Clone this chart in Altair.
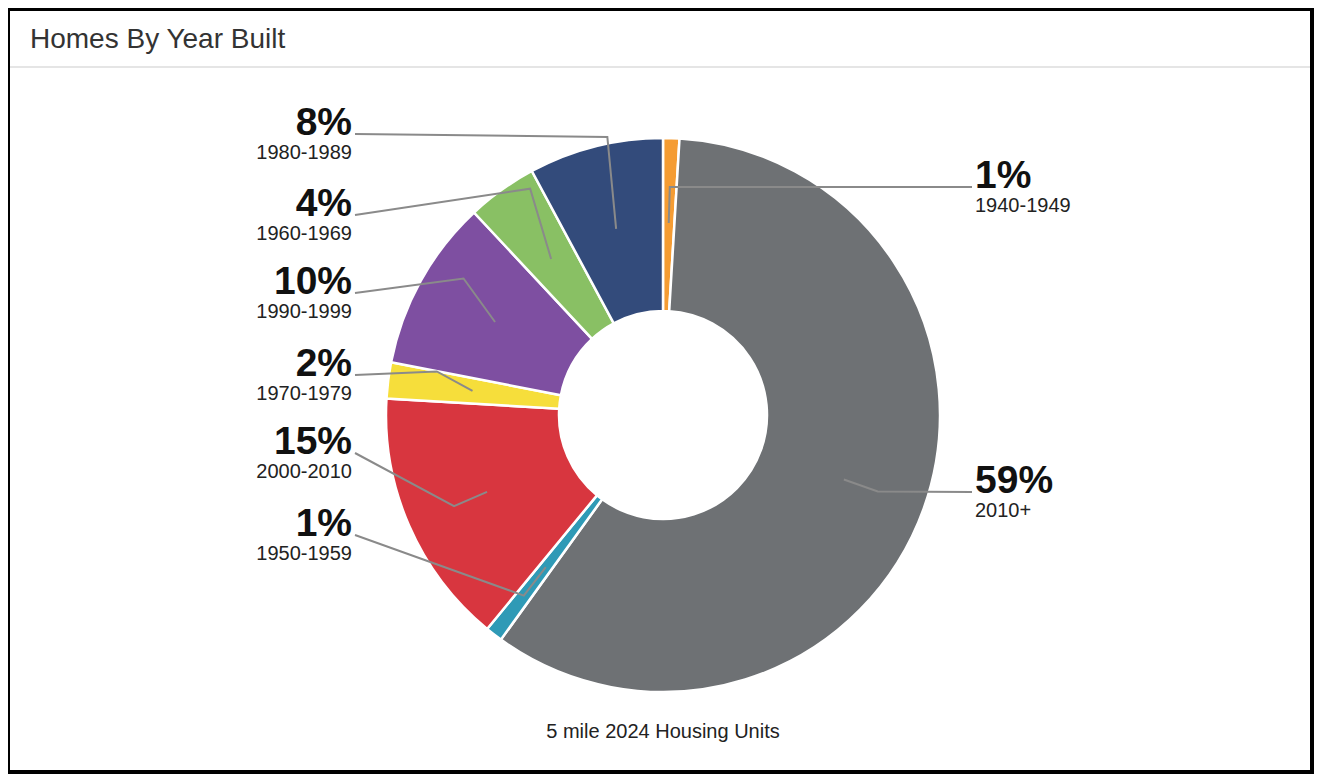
import math
import altair as alt
import pandas as pd

# ---------------- data ----------------
periods = ["1940-1949", "2010+", "1950-1959", "2000-2010",
           "1970-1979", "1990-1999", "1960-1969", "1980-1989"]
shares = [0.95, 59.0, 1.0, 15.0, 2.1, 10.0, 4.1, 7.85]
pct_labels = ["1%", "59%", "1%", "15%", "2%", "10%", "4%", "8%"]
colors = ["#F59C33", "#6E7174", "#2F9AB6", "#D8363F",
          "#F6DE3B", "#7E4FA1", "#89C064", "#334B7B"]
TITLE = "Homes By Year Built"
CAPTION = "5 mile 2024 Housing Units"

# ---------------- layout ----------------
W, H = 1306, 766
CX, CY = 655, 407
R_OUT, R_IN = 277, 104
R_DOT, R_BEND = 192, 228
label_side = ["right", "right", "left", "left", "left", "left", "left", "left"]
label_y = [179, 484, 527, 445, 367, 285, 207, 126]
bend_lift = [0, 0, 0, 0, 15, 26, 41, 57]
LEAD_END = {"left": 347, "right": 964}
TEXT_X = {"left": 344, "right": 967}

total = sum(shares)
cum = 0.0
rows, lead = [], []
for i, (p, s) in enumerate(zip(periods, shares)):
    mid = (cum + s / 2) / total * 2 * math.pi
    cum += s
    side = label_side[i]
    px = CX + R_DOT * math.sin(mid)
    py = CY - R_DOT * math.cos(mid)
    bx = CX + R_BEND * math.sin(mid)
    by = CY - R_BEND * math.cos(mid) - bend_lift[i]
    ex, ey = LEAD_END[side], label_y[i]
    for k, (xx, yy) in enumerate([(px, py), (bx, by), (ex, ey)]):
        lead.append({"period": p, "step": k, "x": xx, "y": yy})
    rows.append({"period": p, "share": s, "order": i, "pct": pct_labels[i],
                 "side": side, "tx": TEXT_X[side],
                 "py": label_y[i] + 1, "yy": label_y[i] + 25})

df = pd.DataFrame(rows)
lead_df = pd.DataFrame(lead)

xs = alt.Scale(domain=[0, W], range=[0, W], nice=False, zero=False)
ys = alt.Scale(domain=[0, H], range=[0, H], nice=False, zero=False)
FONT = "Liberation Sans"

panel = alt.Chart(pd.DataFrame({"a": [0]})).mark_rect(color="#ffffff").encode(
    x=alt.value(2), x2=alt.value(W - 4), y=alt.value(3), y2=alt.value(H - 4)
)
sep = alt.Chart(pd.DataFrame({"a": [0]})).mark_rule(color="#dcdcdc", strokeWidth=1.5).encode(
    x=alt.value(2), x2=alt.value(W - 4), y=alt.value(59)
)
title = alt.Chart(pd.DataFrame({"t": [TITLE]})).mark_text(
    align="left", baseline="alphabetic", font=FONT, fontSize=28, color="#333333"
).encode(text="t:N", x=alt.value(22), y=alt.value(40))
caption = alt.Chart(pd.DataFrame({"t": [CAPTION]})).mark_text(
    align="center", baseline="alphabetic", font=FONT, fontSize=20, color="#222222"
).encode(text="t:N", x=alt.value(CX), y=alt.value(730))

arcs = alt.Chart(df).mark_arc(
    outerRadius=R_OUT, innerRadius=R_IN, stroke="white", strokeWidth=2.5, x=CX, y=CY
).encode(
    theta=alt.Theta("share:Q", stack=True),
    order=alt.Order("order:Q"),
    color=alt.Color("period:N", scale=alt.Scale(domain=periods, range=colors), legend=None),
)

lines = alt.Chart(lead_df).mark_line(color="#8a8a8a", strokeWidth=2).encode(
    x=alt.X("x:Q", scale=xs, axis=None),
    y=alt.Y("y:Q", scale=ys, axis=None),
    detail="period:N",
    order="step:Q",
)

def labels(side, align):
    base = alt.Chart(df).transform_filter(alt.datum.side == side)
    pct = base.mark_text(align=align, baseline="alphabetic", font=FONT, fontSize=39,
                         fontWeight="bold", color="#111111").encode(
        x=alt.X("tx:Q", scale=xs, axis=None), y=alt.Y("py:Q", scale=ys, axis=None), text="pct:N")
    yr = base.mark_text(align=align, baseline="alphabetic", font=FONT, fontSize=20,
                        color="#222222").encode(
        x=alt.X("tx:Q", scale=xs, axis=None), y=alt.Y("yy:Q", scale=ys, axis=None), text="period:N")
    return pct + yr

chart = alt.layer(
    panel, sep, title, arcs, lines, labels("left", "right"), labels("right", "left"), caption
).properties(
    width=W, height=H, padding=0, background="#000000",
    autosize=alt.AutoSizeParams(type="none"),
).configure_view(stroke=None)

chart.save("out.html", embed_options={"renderer": "svg", "actions": False})
